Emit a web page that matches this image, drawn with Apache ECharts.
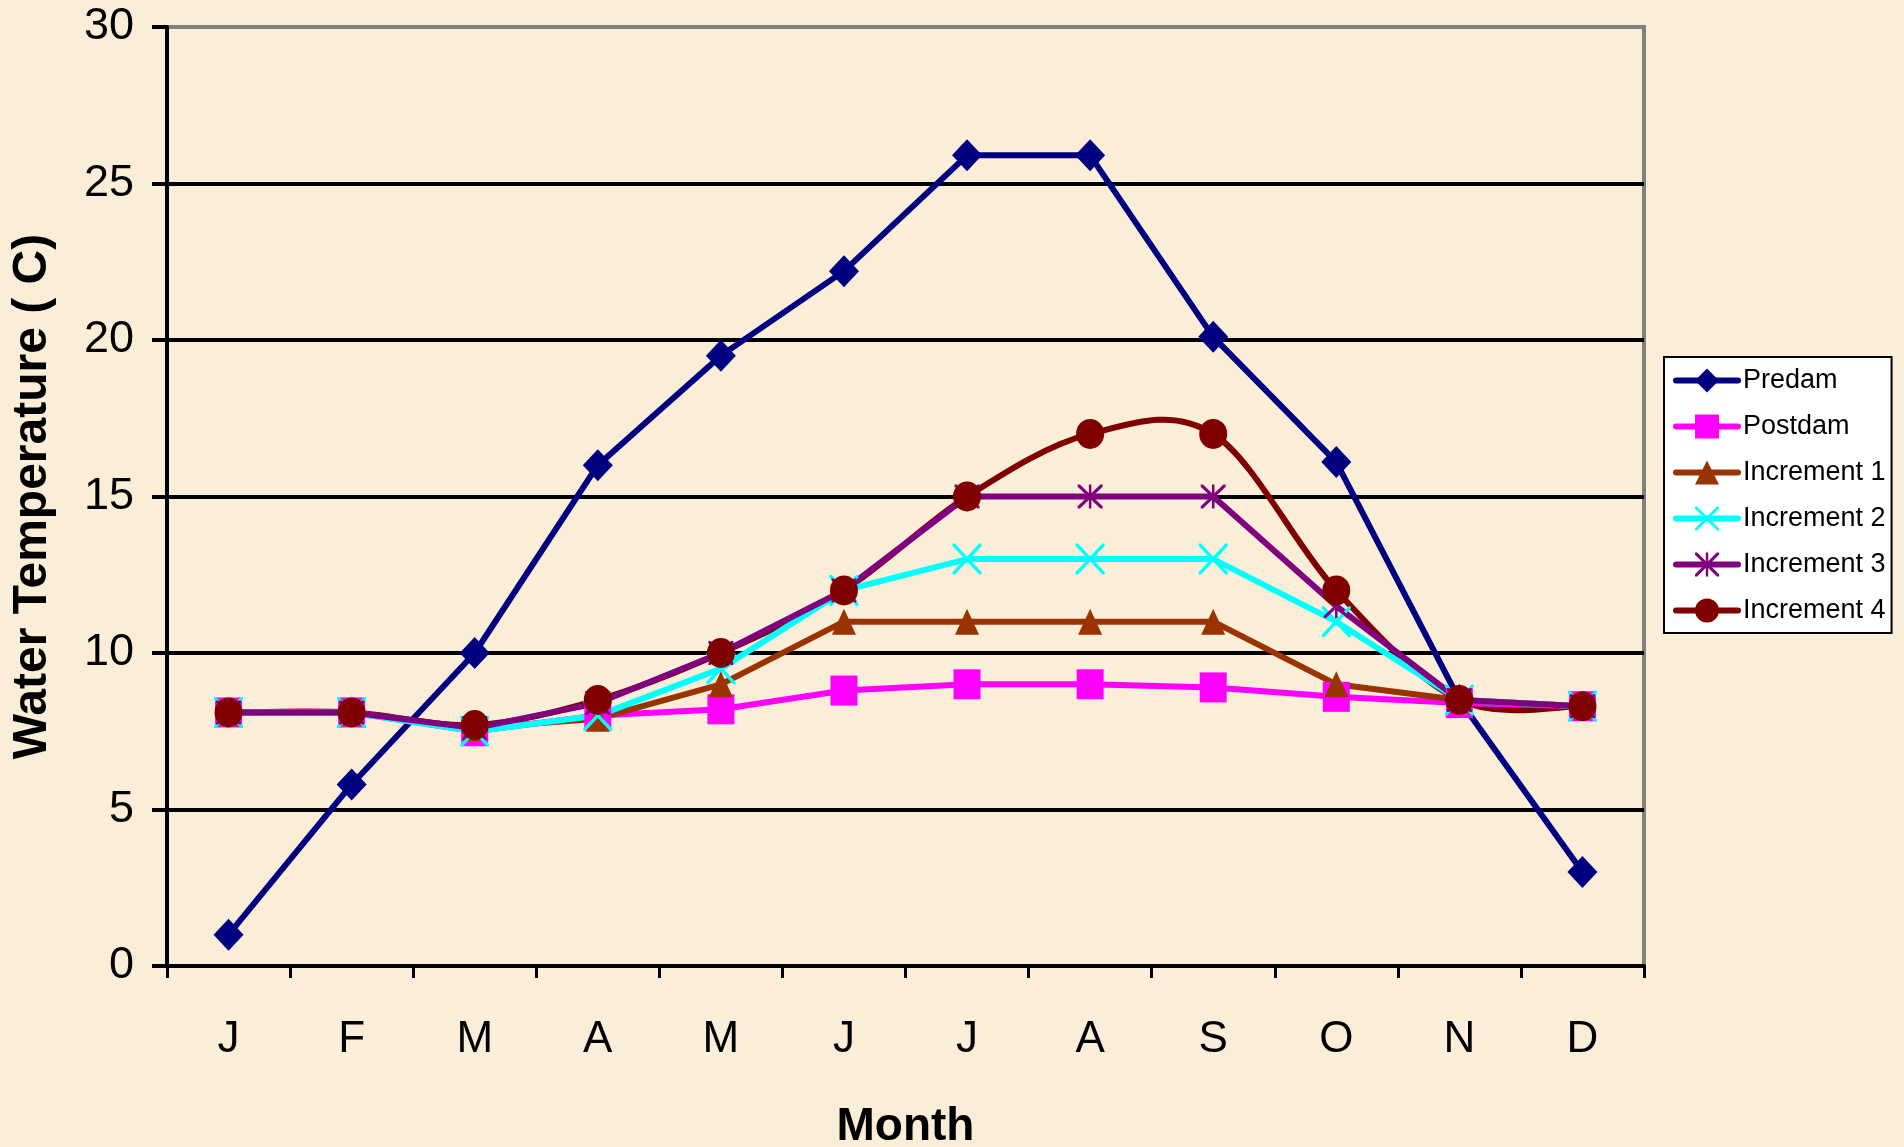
<!DOCTYPE html>
<html>
<head>
<meta charset="utf-8">
<script src="https://cdn.jsdelivr.net/npm/echarts@6/dist/echarts.min.js"></script>
<style>
html,body{margin:0;padding:0;background:#FBEED8;}
#chart{width:1904px;height:1147px;}
</style>
</head>
<body>
<div id="chart"></div>
<script>
var months = ['J','F','M','A','M','J','J','A','S','O','N','D'];
var yTicks = [0,5,10,15,20,25,30];
var predam     = [1.0, 5.8, 10.0, 16.0, 19.5, 22.2, 25.9, 25.9, 20.1, 16.1, 8.5, 3.0];
var postdam    = [8.1, 8.1, 7.5, 8.0, 8.2, 8.8, 9.0, 9.0, 8.9, 8.6, 8.4, 8.3];
var increment1 = [8.1, 8.1, 7.6, 7.9, 9.0, 11.0, 11.0, 11.0, 11.0, 9.0, 8.5, 8.3];
var increment2 = [8.1, 8.1, 7.5, 8.0, 9.5, 12.0, 13.0, 13.0, 13.0, 11.0, 8.5, 8.3];
var increment3 = [8.1, 8.1, 7.6, 8.4, 10.0, 12.0, 15.0, 15.0, 15.0, 11.5, 8.5, 8.3];
var increment4 = [8.1, 8.1, 7.7, 8.5, 10.0, 12.0, 15.0, 17.0, 17.0, 12.0, 8.5, 8.3];

var FONT = '"Liberation Sans", Arial, sans-serif';
var xPath = 'path://M0,0L8,0L100,92L100,100L92,100L0,8ZM100,0L100,8L8,100L0,100L0,92L92,0Z';
var starPath = 'path://M0,0L9,0L100,91L100,100L91,100L0,9ZM100,0L100,9L9,100L0,100L0,91L91,0ZM45,0L55,0L55,100L45,100Z';

var C = {
  predam: '#000080', postdam: '#FF00FF', inc1: '#993300',
  inc2: '#00FFFF', inc3: '#800080', inc4: '#800000'
};

function mk(name, data, color, symbol, size, width, extra) {
  var s = {
    name: name, type: 'line', data: data,
    symbol: symbol, symbolSize: size,
    lineStyle: {color: color, width: width, cap: 'round', join: 'round'},
    itemStyle: {color: color, borderWidth: 0},
    emphasis: {disabled: true},
    animation: false
  };
  if (extra) for (var k in extra) s[k] = extra[k];
  return s;
}

// Excel-style smoothed (Catmull-Rom) curve through the Increment 4 values
function smoothRender(params, api) {
  if (params.dataIndex !== 0) return null;
  var pts = [];
  for (var i = 0; i < increment4.length; i++) pts.push(api.coord([i, increment4[i]]));
  var n = pts.length;
  var d = 'M' + pts[0][0] + ',' + pts[0][1];
  for (var j = 0; j < n - 1; j++) {
    var p0 = pts[Math.max(j - 1, 0)], p1 = pts[j], p2 = pts[j + 1], p3 = pts[Math.min(j + 2, n - 1)];
    var c1x = p1[0] + (p2[0] - p0[0]) / 6, c1y = p1[1] + (p2[1] - p0[1]) / 6;
    var c2x = p2[0] - (p3[0] - p1[0]) / 6, c2y = p2[1] - (p3[1] - p1[1]) / 6;
    d += 'C' + c1x + ',' + c1y + ',' + c2x + ',' + c2y + ',' + p2[0] + ',' + p2[1];
  }
  return {
    type: 'path',
    shape: {pathData: d},
    style: {fill: null, stroke: C.inc4, lineWidth: 6, lineCap: 'round', lineJoin: 'round'},
    silent: true
  };
}

var legendNames = ['Predam','Postdam','Increment 1','Increment 2','Increment 3','Increment 4'];

var chart = echarts.init(document.getElementById('chart'));
chart.setOption({
  backgroundColor: '#FBEED8',
  textStyle: {fontFamily: FONT},
  grid: {
    left: 167, right: 260, top: 27, bottom: 181,
    outerBoundsMode: 'none', containLabel: false,
    show: true, borderColor: '#808080', borderWidth: 4, backgroundColor: 'transparent'
  },
  legend: {
    orient: 'vertical', left: 1664, top: 357,
    backgroundColor: '#FFFFFF', borderColor: '#000000', borderWidth: 2,
    padding: [10, 6, 9, 9],
    itemWidth: 62, itemHeight: 30, itemGap: 19,
    selectedMode: false,
    lineStyle: {width: 6, cap: 'round'},
    textStyle: {fontFamily: FONT, fontSize: 27, color: '#000'},
    data: legendNames.slice(0, 5).concat([{
      name: 'Increment 4',
      lineStyle: {color: C.inc4, width: 6, opacity: 1, cap: 'round'}
    }])
  },
  xAxis: {
    type: 'category', data: months, boundaryGap: true,
    name: 'Month', nameLocation: 'middle', nameGap: 138,
    nameTextStyle: {fontFamily: FONT, fontSize: 46, fontWeight: 'bold', color: '#000'},
    axisLine: {lineStyle: {color: '#000', width: 4}},
    axisTick: {show: true, length: 12, lineStyle: {color: '#000', width: 3}},
    axisLabel: {fontFamily: FONT, fontSize: 44, color: '#000', margin: 52},
    splitLine: {show: false}
  },
  yAxis: {
    type: 'value', min: yTicks[0], max: yTicks[yTicks.length-1], interval: 5,
    name: 'Water Temperature ( C)', nameLocation: 'middle', nameGap: 110, nameRotate: 90,
    nameTextStyle: {fontFamily: FONT, fontSize: 48, fontWeight: 'bold', color: '#000'},
    axisLine: {show: true, lineStyle: {color: '#000', width: 4}},
    axisTick: {show: true, length: 15, lineStyle: {color: '#000', width: 4}},
    axisLabel: {fontFamily: FONT, fontSize: 45, color: '#000', margin: 33},
    splitLine: {show: true, showMaxLine: false, lineStyle: {color: '#000', width: 4}}
  },
  series: [
    mk('Predam', predam, C.predam, 'diamond', [30, 32], 6),
    mk('Postdam', postdam, C.postdam, 'rect', [27, 30], 6),
    mk('Increment 1', increment1, C.inc1, 'triangle', [24, 26], 6),
    mk('Increment 2', increment2, C.inc2, xPath, [29, 31], 6),
    mk('Increment 3', increment3, C.inc3, starPath, [25, 24], 6),
    {
      name: 'Increment 4 curve', type: 'custom', renderItem: smoothRender,
      data: increment4.map(function (v, i) { return [i, v]; }),
      silent: true, animation: false, clip: true
    },
    mk('Increment 4', increment4, C.inc4, 'circle', [28, 30], 6, {lineStyle: {color: C.inc4, width: 6, opacity: 0}})
  ]
});
</script>
</body>
</html>
